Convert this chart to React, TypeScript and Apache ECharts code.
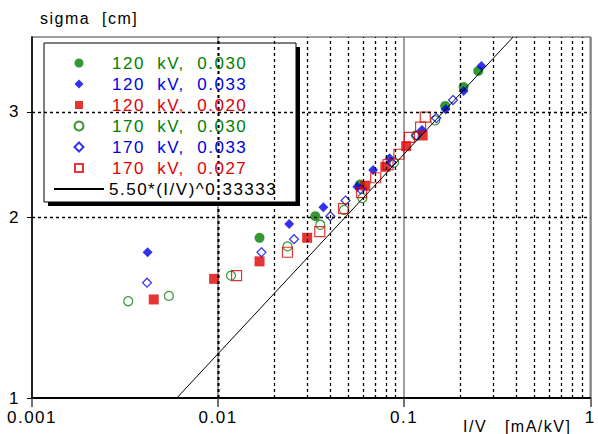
import React, { useEffect, useRef } from 'react';
import * as echarts from 'echarts';

const FONT = "'Liberation Sans', Arial, Helvetica, sans-serif";
const GREEN = '#008000';
const BLUE = '#0000e6';
const RED = '#e00000';

// axis ticks / labels
const xTickLabels = ['0.001', '0.01', '0.1', '1'];
const yTickValues = [1, 2, 3];
const minorX = [
  0.002, 0.003, 0.004, 0.005, 0.006, 0.007, 0.008, 0.009,
  0.02, 0.03, 0.04, 0.05, 0.06, 0.07, 0.08, 0.09,
  0.2, 0.3, 0.4, 0.5, 0.6, 0.7, 0.8, 0.9,
];
const gridY = [2, 3];

// series names
const seriesNames = [
  '120  kV,  0.030',
  '120  kV,  0.033',
  '120  kV,  0.020',
  '170  kV,  0.030',
  '170  kV,  0.033',
  '170  kV,  0.027',
  '5.50*(I/V)^0.33333',
];

// data: [I/V, sigma]
const kv120_030 = [[0.0167, 1.85], [0.0333, 2.01], [0.0578, 2.27], [0.166, 3.07], [0.2085, 3.30], [0.25, 3.51]];
const kv120_033 = [[0.00418, 1.75], [0.0241, 1.95], [0.0368, 2.08], [0.056, 2.25], [0.0681, 2.40], [0.0835, 2.51], [0.1247, 2.80], [0.167, 3.03], [0.2085, 3.25], [0.26, 3.58]];
const kv120_020 = [[0.00451, 1.46], [0.00952, 1.58], [0.0167, 1.69], [0.0301, 1.85], [0.0618, 2.26], [0.0792, 2.43], [0.1025, 2.63], [0.1257, 2.74]];
const kv170_030 = [[0.00329, 1.45], [0.00544, 1.48], [0.01173, 1.60], [0.0236, 1.79], [0.0354, 1.945], [0.0475, 2.06], [0.0596, 2.155], [0.0882, 2.47], [0.116, 2.74], [0.1468, 2.905]];
const kv170_033 = [[0.00415, 1.557], [0.0171, 1.75], [0.0256, 1.84], [0.0401, 2.01], [0.0484, 2.135], [0.0583, 2.23], [0.0855, 2.47], [0.116, 2.74], [0.1488, 2.93], [0.183, 3.14]];
const kv170_027 = [[0.01257, 1.60], [0.0236, 1.75], [0.0352, 1.895], [0.0472, 2.07], [0.059, 2.20], [0.0703, 2.33], [0.0819, 2.45], [0.0937, 2.55], [0.1067, 2.72], [0.1225, 2.83], [0.1298, 2.94]];

// fit line end points
const fitX = [0.006, 0.385];
const fitY = [1.0, 4.0];

// legend icons drawn inside a 50 x 9 box (corner anchors keep the box size)
const BOX = 'M0,0L0.01,0M50,9L49.99,9';
const ICON_DIAMOND = `path://${BOX}M25,0L29.5,4.5L25,9L20.5,4.5Z`;
const ICON_SQUARE = `path://${BOX}M21,0.5L29,0.5L29,8.5L21,8.5Z`;

export default function App() {
  const ref = useRef<HTMLDivElement>(null);
  useEffect(() => {
    if (!ref.current) return;
    const chart = echarts.init(ref.current, undefined, { renderer: 'svg' });
    const clear = 'rgba(0,0,0,0)';
    const scatter = (name: string, data: number[][], symbol: string, size: number, color: string, open: boolean) => ({
      type: 'scatter',
      name,
      data,
      symbol,
      symbolSize: size,
      z: 3,
      itemStyle: open
        ? { color: clear, borderColor: color, borderWidth: 1.2 }
        : { color, borderWidth: 0 },
    });
    const option: any = {
      animation: false,
      backgroundColor: '#fff',
      textStyle: { fontFamily: FONT },
      grid: {
        left: 32, right: 2, top: 37, bottom: 36,
        show: true, borderColor: '#808080', borderWidth: 1.5, backgroundColor: clear,
      },
      xAxis: {
        type: 'log', logBase: 10, min: 0.001, max: 1,
        axisLine: { show: true, onZero: false, lineStyle: { color: '#000', width: 2 } },
        axisTick: { show: true, length: 9, lineStyle: { color: '#444', width: 1.5 } },
        axisLabel: {
          fontSize: 17, color: '#000', margin: 11, fontFamily: FONT,
          formatter: (_v: number, i: number) => xTickLabels[i] ?? String(_v),
        },
        splitLine: { show: true, lineStyle: { color: '#808080', width: 1.5 } },
      },
      yAxis: {
        type: 'log', logBase: 10, min: 1, max: 4,
        axisLine: { show: true, onZero: false, lineStyle: { color: '#000', width: 1.5 } },
        axisTick: { show: true, length: 5, customValues: yTickValues, lineStyle: { color: '#000' } },
        axisLabel: {
          fontSize: 17, color: '#000', margin: 12, fontFamily: FONT,
          customValues: yTickValues,
          formatter: (v: number) => String(Math.round(v)),
        },
        splitLine: { show: false },
      },
      legend: {
        orient: 'vertical', left: 53, top: 54.5, padding: 0,
        itemWidth: 50, itemHeight: 9, itemGap: 4, z: 6,
        selectedMode: false,
        textStyle: { fontSize: 17, fontFamily: FONT, padding: [0, 0, 0, 3] },
        data: [
          { name: seriesNames[0], textStyle: { color: GREEN } },
          { name: seriesNames[1], icon: ICON_DIAMOND, textStyle: { color: BLUE } },
          { name: seriesNames[2], icon: ICON_SQUARE, textStyle: { color: RED } },
          { name: seriesNames[3], textStyle: { color: GREEN } },
          { name: seriesNames[4], icon: ICON_DIAMOND, textStyle: { color: BLUE } },
          { name: seriesNames[5], icon: ICON_SQUARE, textStyle: { color: RED } },
          { name: seriesNames[6], textStyle: { color: '#000', padding: [0, 0, 0, 0] } },
        ],
      },
      graphic: [
        { type: 'rect', z: 5, silent: true, shape: { x: 48, y: 47, width: 252, height: 159 }, style: { fill: '#000' } },
        { type: 'rect', z: 5, silent: true, shape: { x: 44, y: 43, width: 252, height: 159 }, style: { fill: '#fff', stroke: '#000', lineWidth: 1 } },
        { type: 'text', z: 6, silent: true, x: 40, y: 18, style: { text: 'sigma  [cm]', fontSize: 16, fontFamily: FONT, fill: '#000', verticalAlign: 'middle', align: 'left' } },
        { type: 'text', z: 6, silent: true, x: 463, y: 426, style: { text: 'I/V   [mA/kV]', fontSize: 16, fontFamily: FONT, fill: '#000', verticalAlign: 'middle', align: 'left' } },
      ],
      series: [
        {
          type: 'line', name: 'grid', data: [], z: 1, silent: true,
          markLine: {
            silent: true, symbol: ['none', 'none'], animation: false,
            label: { show: false },
            lineStyle: { color: '#000', type: [3, 3], width: 1.3 },
            emphasis: { disabled: true },
            data: [
              ...minorX.map((v) => ({ xAxis: v })),
              ...gridY.map((v) => ({ yAxis: v })),
            ],
          },
        },
        scatter(seriesNames[0], kv120_030, 'circle', 10, GREEN, false),
        scatter(seriesNames[1], kv120_033, 'diamond', 10, BLUE, false),
        scatter(seriesNames[2], kv120_020, 'rect', 10, RED, false),
        scatter(seriesNames[3], kv170_030, 'circle', 9, GREEN, true),
        scatter(seriesNames[4], kv170_033, 'diamond', 9, BLUE, true),
        scatter(seriesNames[5], kv170_027, 'rect', 10, RED, true),
        {
          type: 'line', name: seriesNames[6],
          data: fitX.map((x, i) => [x, fitY[i]]),
          symbol: 'none', showSymbol: false, z: 4, clip: true,
          lineStyle: { color: '#000', width: 1 },
          itemStyle: { color: clear, borderWidth: 0, borderColor: clear },
        },
      ],
    };
    chart.setOption(option);
    return () => chart.dispose();
  }, []);
  return (
    <div
      ref={ref}
      style={{ position: 'fixed', left: 0, top: 0, width: 598, height: 434, letterSpacing: '1.5px' }}
    />
  );
}
